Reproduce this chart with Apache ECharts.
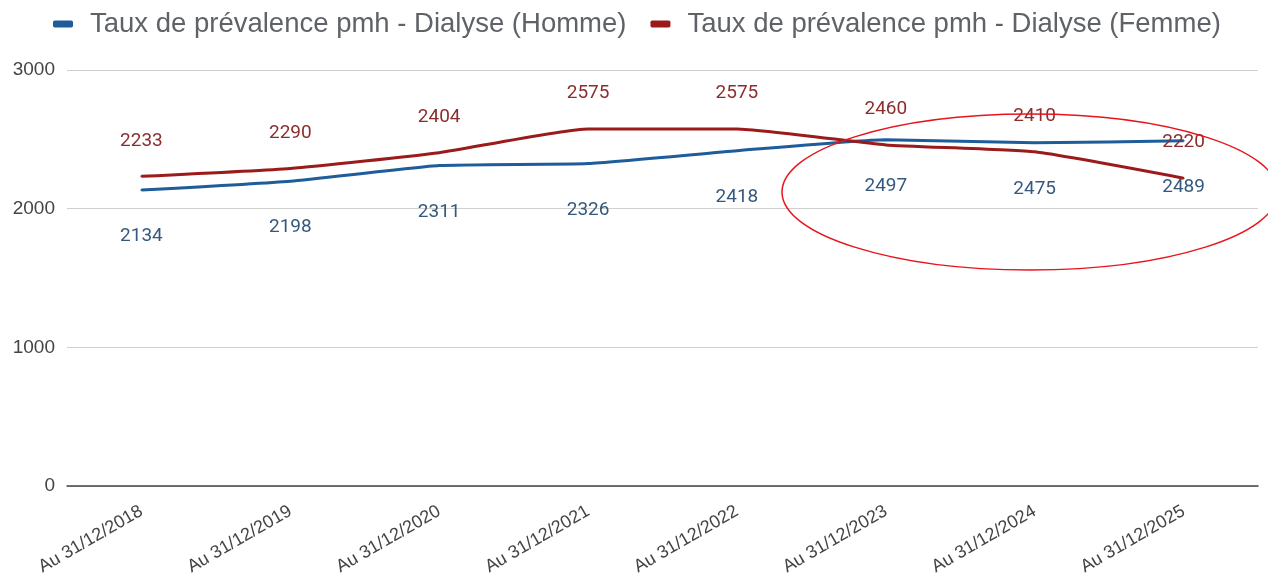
<!DOCTYPE html>
<html>
<head>
<meta charset="utf-8">
<script src="https://cdn.jsdelivr.net/npm/echarts@6/dist/echarts.min.js"></script>
<style>
  html, body { margin: 0; padding: 0; background: #fff; }
  #chart { width: 1268px; height: 581px; }
</style>
</head>
<body>
<div id="chart"></div>
<script>
const categories = ['Au 31/12/2018', 'Au 31/12/2019', 'Au 31/12/2020', 'Au 31/12/2021',
    'Au 31/12/2022', 'Au 31/12/2023', 'Au 31/12/2024', 'Au 31/12/2025'];
const homme = [2134, 2198, 2311, 2326, 2418, 2497, 2475, 2489];
const femme = [2233, 2290, 2404, 2575, 2575, 2460, 2410, 2220];
const yTicks = [0, 1000, 2000, 3000];

const chart = echarts.init(document.getElementById('chart'));

chart.setOption({
    animation: false,
    legend: {
        top: 10,
        left: 53,
        padding: 0,
        itemWidth: 20,
        itemHeight: 7,
        itemGap: 24,
        icon: 'roundRect',
        textStyle: { fontFamily: 'Liberation Sans', fontSize: 27.5, color: '#5f6368', padding: [0, 0, 0, 12] },
        data: ['Taux de prévalence pmh - Dialyse (Homme)', 'Taux de prévalence pmh - Dialyse (Femme)']
    },
    grid: { left: 67, right: 10, top: 70, bottom: 95, containLabel: false },
    xAxis: {
        type: 'category',
        data: categories,
        boundaryGap: true,
        axisLine: { lineStyle: { color: '#444', width: 1.5 } },
        axisTick: { show: false },
        axisLabel: {
            rotate: 30,
            margin: 24,
            fontFamily: 'Liberation Sans',
            fontSize: 18,
            color: '#444'
        }
    },
    yAxis: {
        type: 'value',
        min: yTicks[0],
        max: yTicks[yTicks.length - 1],
        interval: 1000,
        axisLine: { show: false },
        axisTick: { show: false },
        axisLabel: {
            fontFamily: 'Liberation Sans',
            fontSize: 19,
            color: '#444',
            margin: 12,
            formatter: (v) => String(v)
        },
        splitLine: { lineStyle: { color: '#cfcfcf', width: 1.2 } }
    },
    series: [
        {
            name: 'Taux de prévalence pmh - Dialyse (Homme)',
            type: 'line',
            data: homme,
            color: '#1f5c9a',
            smooth: 0.15,
            symbol: 'circle',
            symbolSize: 2,
            showSymbol: true,
            lineStyle: { width: 3 },
            label: {
                show: true,
                position: 'bottom',
                distance: 36,
                fontFamily: 'Roboto',
                fontSize: 19,
                color: '#35597d'
            }
        },
        {
            name: 'Taux de prévalence pmh - Dialyse (Femme)',
            type: 'line',
            data: femme,
            color: '#9b1b1b',
            smooth: 0.15,
            symbol: 'circle',
            symbolSize: 2,
            showSymbol: true,
            lineStyle: { width: 3 },
            label: {
                show: true,
                position: 'top',
                distance: 25,
                fontFamily: 'Roboto',
                fontSize: 19,
                color: '#8a2e2e'
            }
        }
    ],
    graphic: [
        {
            type: 'ellipse',
            shape: { cx: 1030, cy: 192, rx: 248, ry: 78 },
            style: { fill: 'none', stroke: '#e8141b', lineWidth: 1.5 },
            z: 100
        }
    ]
});

window.addEventListener('resize', () => chart.resize());
</script>
</body>
</html>
